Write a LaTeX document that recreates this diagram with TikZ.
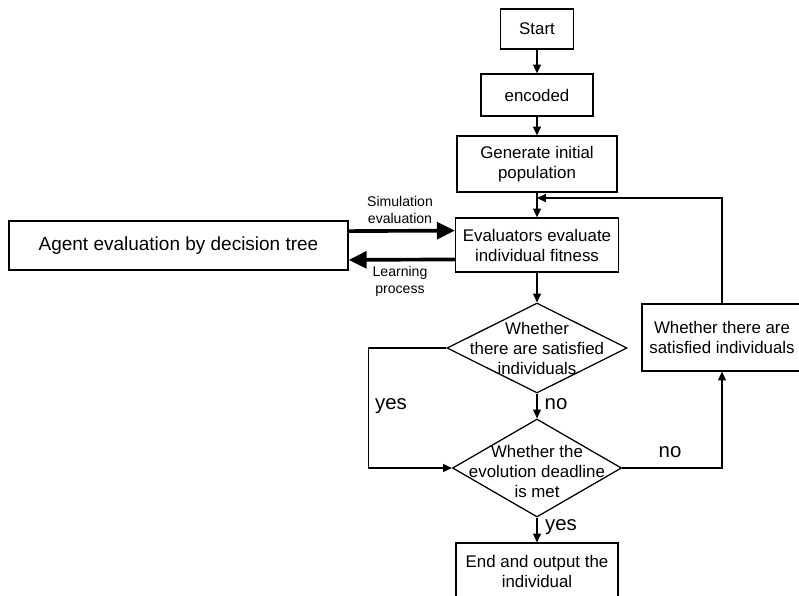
\documentclass[tikz,border=0pt]{standalone}
\usepackage{fontspec}
\setmainfont{Liberation Sans}
\usetikzlibrary{shapes.geometric,arrows.meta}

\begin{document}
\begin{tikzpicture}[x=0.025cm, y=-0.025cm,
  box/.style={draw, line width=0.9pt, align=center, font=\fontsize{12}{14.2}\selectfont, inner sep=2pt},
  decision/.style={diamond, draw, line width=0.9pt, inner sep=0pt, font=\fontsize{12}{14.2}\selectfont},
  arrow/.style={line width=0.9pt, -{Triangle[length=0.22cm, width=0.2cm]}},
  bigarrow/.style={line width=2.6pt, -{Triangle[length=0.45cm, width=0.42cm]}},
  lbl/.style={font=\fontsize{14.5}{16}\selectfont},
  small/.style={align=center, font=\fontsize{10}{12}\selectfont}]
\useasboundingbox (0,0) rectangle (799,595);

\node (start) at (537,29) [box, minimum width=1.825cm, minimum height=1cm]{Start};
\node (enc) at (537,95) [box, minimum width=2.8cm, minimum height=1.05cm]{encoded};
\node (gen) at (537,164) [box, minimum width=4cm, minimum height=1.4cm]{Generate initial\\population};
\node (eval) at (537,245) [box, minimum width=4.075cm, minimum height=1.35cm]{Evaluators evaluate\\individual fitness};
\node (agent) at (178.5,245.5) [box, minimum width=8.475cm, minimum height=1.225cm, font=\fontsize{13.5}{16}\selectfont]{Agent evaluation by decision tree};
\node (d1) at (537,348) [decision, minimum width=4.5cm, minimum height=2.25cm,
  label={[align=center, font=\fontsize{12}{14.2}\selectfont]center:Whether\\there are satisfied\\individuals}]{};
\node (d2) at (537,468) [decision, minimum width=4.225cm, minimum height=2.45cm,
  label={[align=center, font=\fontsize{12}{14.2}\selectfont, yshift=-0.08cm]center:Whether the\\evolution deadline\\is met}]{};
\node (check) at (722,337.5) [box, minimum width=4cm, minimum height=1.675cm]{Whether there are\\satisfied individuals};
\node (end) at (537,571) [box, minimum width=4.05cm, minimum height=1.4cm]{End and output the\\individual};
\coordinate (merge) at (537,198);

\draw[arrow] (start) -- (enc);
\draw[arrow] (enc) -- (gen);
\draw[arrow] (gen) -- (eval);
\draw[bigarrow] ([yshift=0.36cm]agent.east) -- ([yshift=0.36cm]eval.west);
\draw[bigarrow] ([yshift=-0.36cm]eval.west) -- ([yshift=-0.36cm]agent.east);
\draw[arrow] (eval) -- (d1);
\draw[arrow] (d1) -- (d2);
\draw[arrow] (d1.west) -- ++(-78,0) |- (d2.west);
\draw[arrow] (d2.east) -| (check.south);
\draw[arrow] (check.north) |- (merge);
\draw[arrow] (d2) -- (end);

\node (sim) at (400,210) [small]{Simulation\\evaluation};
\node (learn) at (400,281) [small]{Learning\\process};
\node (yes1) at (391,406) [lbl]{yes};
\node (no1) at (556,404) [lbl]{no};
\node (no2) at (670,452) [lbl]{no};
\node (yes2) at (561,527) [lbl]{yes};
\end{tikzpicture}
\end{document}
